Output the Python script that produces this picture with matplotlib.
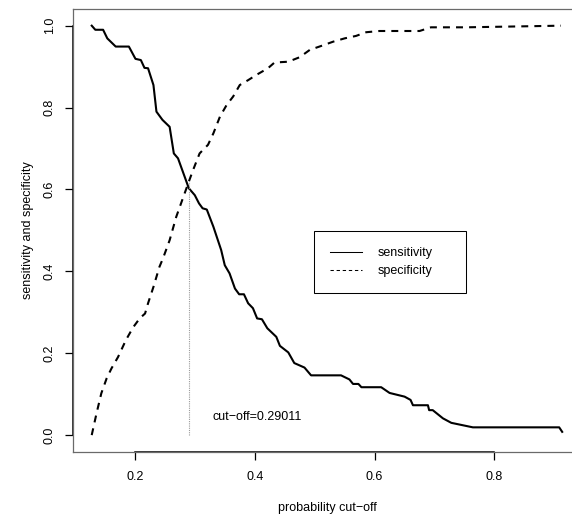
import numpy as np
import matplotlib
matplotlib.use("Agg")
from matplotlib import pyplot as plt
from matplotlib.lines import Line2D

plt.rcParams['font.family'] = ['Liberation Sans', 'DejaVu Sans']
plt.rcParams['font.size'] = 9
plt.rcParams['lines.scale_dashes'] = False

# sensitivity / specificity against the probability cut-off
sens_x = [0.128, 0.134, 0.147, 0.154, 0.168, 0.190, 0.201, 0.210, 0.216, 0.222,
          0.231, 0.236, 0.246, 0.258, 0.265, 0.272, 0.290, 0.300, 0.307, 0.313,
          0.320, 0.331, 0.344, 0.350, 0.358, 0.367, 0.374, 0.382, 0.389, 0.397,
          0.404, 0.412, 0.421, 0.436, 0.442, 0.456, 0.466, 0.483, 0.494, 0.544,
          0.558, 0.564, 0.573, 0.578, 0.611, 0.625, 0.650, 0.660, 0.664, 0.689,
          0.691, 0.697, 0.714, 0.728, 0.764, 0.908, 0.913]
sens_y = [1.000, 0.990, 0.990, 0.969, 0.949, 0.949, 0.919, 0.916, 0.897, 0.896,
          0.855, 0.790, 0.770, 0.753, 0.688, 0.676, 0.603, 0.586, 0.566, 0.554,
          0.551, 0.509, 0.452, 0.415, 0.395, 0.358, 0.344, 0.344, 0.322, 0.310,
          0.285, 0.283, 0.261, 0.240, 0.218, 0.202, 0.176, 0.165, 0.146, 0.146,
          0.136, 0.125, 0.125, 0.117, 0.117, 0.103, 0.094, 0.086, 0.073, 0.073,
          0.061, 0.061, 0.041, 0.030, 0.019, 0.019, 0.008]

spec_x = [0.128, 0.136, 0.144, 0.153, 0.161, 0.172, 0.185, 0.197, 0.208, 0.217,
          0.222, 0.231, 0.241, 0.247, 0.258, 0.269, 0.279, 0.290, 0.297, 0.308,
          0.322, 0.331, 0.342, 0.353, 0.364, 0.375, 0.389, 0.403, 0.422, 0.433,
          0.456, 0.475, 0.492, 0.508, 0.531, 0.550, 0.569, 0.586, 0.608, 0.675,
          0.694, 0.753, 0.911]
spec_y = [0.000, 0.053, 0.102, 0.139, 0.163, 0.191, 0.232, 0.263, 0.285, 0.297,
          0.322, 0.362, 0.411, 0.432, 0.476, 0.533, 0.574, 0.619, 0.647, 0.688,
          0.709, 0.737, 0.778, 0.806, 0.827, 0.855, 0.867, 0.880, 0.896, 0.910,
          0.912, 0.923, 0.941, 0.949, 0.961, 0.969, 0.975, 0.984, 0.987, 0.987,
          0.996, 0.996, 1.000]

cutoff = 0.29011
x_ticks = [0.2, 0.4, 0.6, 0.8]
y_ticks = [0.0, 0.2, 0.4, 0.6, 0.8, 1.0]

W, H = 572, 519
fig = plt.figure(figsize=(W / 100, H / 100), dpi=100)
# plot region runs a little past the right edge of the image
ax = fig.add_axes([72.9 / W, (H - 451.5) / H, (581 - 72.9) / W, (451.5 - 9.3) / H])

ax.plot(sens_x, sens_y, color='black', lw=1.5, solid_joinstyle='round')
ax.plot(spec_x, spec_y, color='black', lw=1.5, linestyle=(0, (5.0, 4.4)))

# dotted drop line at the chosen cut-off
top = np.interp(cutoff, spec_x, spec_y)
ax.plot([cutoff, cutoff], [0, top], color='#9a9a9a', lw=0.8, linestyle=(0, (0.8, 0.8)))
ax.text(cutoff + 0.114, 0.045, 'cut\u2212off=%.5f' % cutoff, ha='center', va='center')

x0 = min(sens_x) - 0.04 * (max(sens_x) - min(sens_x))
x1 = max(sens_x) + 0.04 * (max(sens_x) - min(sens_x))
y0, y1 = -0.04, 1.04
ax.set_xlim(x0, x1)
ax.set_ylim(y0, y1)

ax.set_xticks(x_ticks)
ax.set_xticklabels(['%.1f' % t for t in x_ticks])
ax.set_yticks(y_ticks)
ax.set_yticklabels(['%.1f' % t for t in y_ticks], rotation=90, va='center')
ax.tick_params(axis='both', length=5.6, width=0.9, color='black')
ax.tick_params(axis='x', pad=8.3)
ax.tick_params(axis='y', pad=6.6)

ax.set_xlabel('probability cut\u2212off', labelpad=14)
ax.set_ylabel('sensitivity and specificity', labelpad=7.5)

# grey box, black axis lines spanning first to last tick
ax.spines['right'].set_visible(False)
for side in ['top', 'left', 'bottom']:
    ax.spines[side].set_color('#6a6a6a')
    ax.spines[side].set_linewidth(0.9)
ax.plot([x_ticks[0], x_ticks[-1]], [y0, y0], color='black', lw=1.1, clip_on=False)
ax.plot([x0, x0], [y_ticks[0], y_ticks[-1]], color='black', lw=1.1, clip_on=False)

handles = [Line2D([], [], color='black', lw=0.75),
           Line2D([], [], color='black', lw=0.75, linestyle=(0, (2.4, 2.0)))]
leg = ax.legend(handles, ['sensitivity', 'specificity'],
                loc='upper left', mode='expand',
                bbox_to_anchor=(314 / W, (H - 297.7) / H, 152 / W, 67 / H),
                bbox_transform=fig.transFigure, borderaxespad=0,
                borderpad=1.3, handlelength=2.5, handletextpad=1.33,
                labelspacing=0.5, fancybox=False, framealpha=1)
leg.get_frame().set_edgecolor('black')
leg.get_frame().set_linewidth(0.75)

fig.savefig('out.png', dpi=100)
